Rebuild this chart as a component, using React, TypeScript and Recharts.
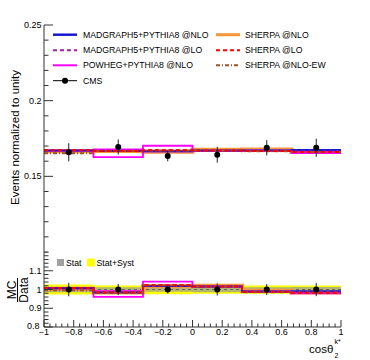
import React from 'react';
import { ComposedChart, Line, Area, Scatter, XAxis, YAxis, ErrorBar, ReferenceLine } from 'recharts';

// ---- data ----
const binEdges = [-1, -0.6667, -0.3333, 0, 0.3333, 0.6667, 1];
const binCenters = [-0.8333, -0.5, -0.1667, 0.1667, 0.5, 0.8333];
const cmsValues = [0.1659, 0.1694, 0.1634, 0.1643, 0.1689, 0.1689];
const cmsErrors = [0.006, 0.005, 0.0035, 0.0053, 0.005, 0.006];
const madgraphNlo = [0.167, 0.1668, 0.1665, 0.167, 0.167, 0.1674];
const madgraphLo = [0.1673, 0.167, 0.1672, 0.167, 0.1668, 0.1664];
const powhegNlo = [0.167, 0.1627, 0.1702, 0.1668, 0.167, 0.1654];
const powhegBoxEdge = [0.167, 0.1678, 0.1665, 0.1668, 0.167, 0.1662];
const sherpaNlo = [0.1666, 0.1668, 0.1663, 0.1675, 0.1677, 0.1662];
const sherpaLo = [0.1672, 0.1668, 0.1672, 0.167, 0.1668, 0.166];
const sherpaNloEw = [0.1652, 0.1668, 0.167, 0.167, 0.1665, 0.166];
const statBand = [0.015, 0.012, 0.012, 0.014, 0.012, 0.013];
const statSystBand = [0.027, 0.022, 0.025, 0.022, 0.022, 0.022];

// ---- tick labels ----
const xMajorTicks = [-1, -0.8, -0.6, -0.4, -0.2, 0, 0.2, 0.4, 0.6, 0.8, 1];
const yMajorTicksTop = [0.15, 0.2, 0.25];
const yMajorTicksRatio = [0.8, 0.9, 1, 1.1];

const xAllTicks = Array.from({ length: 51 }, (_, i) => -1 + i * 0.04);
const yAllTicksTop = Array.from({ length: 16 }, (_, i) => 0.1 + i * 0.01);
const yAllTicksRatio = Array.from({ length: 21 }, (_, i) => 0.8 + i * 0.02);

const FONT = '"Liberation Sans", Arial, Helvetica, sans-serif';
const AXIS = '#333';

const fmt = (v: number) => {
  const r = Math.round(v * 100) / 100;
  const s = String(r === 0 ? 0 : r);
  return s.replace('-', '\u2212');
};
const isIn = (arr: number[], v: number) => arr.some((m) => Math.abs(m - v) < 1e-6);

const stepData = (vals: number[]) =>
  binEdges.map((x, i) => ({ x, y: vals[Math.min(i, vals.length - 1)] }));
const ratioOf = (vals: number[]) => vals.map((v, i) => v / cmsValues[i]);
const bandData = (w: number[]) =>
  binEdges.map((x, i) => {
    const k = Math.min(i, w.length - 1);
    return { x, band: [1 - w[k], 1 + w[k]] };
  });

const cmsTop = binCenters.map((x, i) => ({ x, y: cmsValues[i], err: cmsErrors[i] }));
const cmsRatio = binCenters.map((x, i) => ({ x, y: cmsValues[i] / cmsValues[i], err: cmsErrors[i] / cmsValues[i] }));

const YTick = (props: any) => {
  const { x, y, payload, majors, labels, dy } = props;
  const v = payload.value;
  const major = isIn(majors, v);
  const lowest = Math.abs(v - 0.8) < 1e-6;
  return (
    <g>
      <line x1={x} x2={x + (major ? 9 : 4.5)} y1={y} y2={y} stroke={AXIS} strokeWidth={1} />
      {major && labels !== false && (
        <text x={x - (lowest ? 4.5 : 2.5)} y={y - (lowest ? 1.5 : 0) + (dy || 0)} textAnchor="end" dominantBaseline="central" fontSize={9} fontFamily={FONT} fill="#000">
          {fmt(v)}
        </text>
      )}
    </g>
  );
};

const XTick = (props: any) => {
  const { x, y, payload, labels, len } = props;
  const v = payload.value;
  const major = isIn(xMajorTicks, v);
  return (
    <g>
      <line x1={x} x2={x} y1={y} y2={y - (major ? len : len / 2)} stroke={AXIS} strokeWidth={1} />
      {major && labels && (
        <text x={x} y={y + 5} textAnchor="middle" dominantBaseline="central" fontSize={9} fontFamily={FONT} fill="#000">
          {fmt(v)}
        </text>
      )}
    </g>
  );
};

const CmsDot = (p: any) => <circle cx={p.cx} cy={p.cy} r={3} fill="#000" />;

const series = (ratio: boolean) => {
  const f = (v: number[]) => stepData(ratio ? ratioOf(v) : v);
  const common = { type: 'stepAfter' as const, dataKey: 'y', dot: false, activeDot: false, isAnimationActive: false };
  return [
    <Line key="sn" {...common} data={f(sherpaNlo)} stroke="#f7973a" strokeWidth={4} />,
    <Line key="pw2" {...common} data={f(powhegBoxEdge)} stroke="#ff00ff" strokeWidth={1.8} />,
    <Line key="pw" {...common} data={f(powhegNlo)} stroke="#ff00ff" strokeWidth={1.8} />,
    <Line key="mn" {...common} data={f(madgraphNlo)} stroke="#1a1acd" strokeWidth={2} />,
    <Line key="ml" {...common} data={f(madgraphLo)} stroke="#a020b0" strokeWidth={2} strokeDasharray="4 3" />,
    <Line key="ew" {...common} data={f(sherpaNloEw)} stroke="#a0522d" strokeWidth={2} strokeDasharray="4 2 1 2" />,
    <Line key="sl" {...common} data={f(sherpaLo)} stroke="#ff0000" strokeWidth={2} strokeDasharray="4 3" />,
  ];
};

const legendLeft = [
  { label: 'MADGRAPH5+PYTHIA8 @NLO', color: '#1a1acd', dash: undefined, w: 2.5 },
  { label: 'MADGRAPH5+PYTHIA8 @LO', color: '#a020b0', dash: '4 3', w: 2 },
  { label: 'POWHEG+PYTHIA8 @NLO', color: '#ff00ff', dash: undefined, w: 2 },
];
const legendRight = [
  { label: 'SHERPA @NLO', color: '#f7973a', dash: undefined, w: 3 },
  { label: 'SHERPA @LO', color: '#ff0000', dash: '4 3', w: 2 },
  { label: 'SHERPA @NLO-EW', color: '#a0522d', dash: '4 2 1 2', w: 2 },
];
const legendRows = [34.7, 50.3, 65.3, 80.7];

export default function App() {
  return (
    <div style={{ position: 'absolute', left: 0, top: 0, width: 370, height: 360, background: '#fff', fontFamily: FONT }}>
      <div style={{ position: 'absolute', left: 0, top: 0 }}>
        <ComposedChart width={370} height={253} margin={{ top: 25, right: 29, bottom: 1, left: 0 }}>
          <XAxis
            dataKey="x"
            type="number"
            domain={[-1, 1]}
            allowDataOverflow
            ticks={xAllTicks}
            interval={0}
            height={0}
            tickSize={0}
            tickMargin={0}
            tickLine={false}
            axisLine={{ stroke: AXIS }}
            tick={(p: any) => <XTick {...p} labels={false} len={9} />}
          />
          <XAxis xAxisId="top" orientation="top" type="number" domain={[-1, 1]} height={0} tick={false} tickLine={false} axisLine={{ stroke: AXIS }} />
          <YAxis
            type="number"
            domain={[0.1, 0.25]}
            allowDataOverflow
            ticks={yAllTicksTop}
            interval={0}
            width={44}
            tickSize={0}
            tickMargin={0}
            tickLine={false}
            axisLine={{ stroke: AXIS }}
            tick={(p: any) => <YTick {...p} majors={yMajorTicksTop} />}
          />
          <YAxis yAxisId="right" orientation="right" type="number" domain={[0, 1]} width={0} tick={false} tickLine={false} axisLine={{ stroke: AXIS }} />
          {series(false)}
          <Scatter data={cmsTop} dataKey="y" shape={CmsDot} isAnimationActive={false}>
            <ErrorBar dataKey="err" direction="y" width={0} stroke="#222" strokeWidth={1} isAnimationActive={false} />
          </Scatter>
        </ComposedChart>
      </div>
      <div style={{ position: 'absolute', left: 0, top: 252 }}>
        <ComposedChart width={370} height={108} margin={{ top: 0, right: 29, bottom: 0, left: 0 }}>
          <XAxis
            dataKey="x"
            type="number"
            domain={[-1, 1]}
            allowDataOverflow
            ticks={xAllTicks}
            interval={0}
            height={33}
            tickSize={0}
            tickMargin={0}
            tickLine={false}
            axisLine={{ stroke: AXIS }}
            tick={(p: any) => <XTick {...p} labels={true} len={7} />}
          />
          <XAxis xAxisId="top" orientation="top" type="number" domain={[-1, 1]} height={0} tick={false} tickLine={false} axisLine={{ stroke: AXIS }} />
          <YAxis
            type="number"
            domain={[0.8, 1.2]}
            allowDataOverflow
            ticks={yAllTicksRatio}
            interval={0}
            width={44}
            tickSize={0}
            tickMargin={0}
            tickLine={false}
            axisLine={{ stroke: AXIS }}
            tick={(p: any) => <YTick {...p} majors={yMajorTicksRatio} />}
          />
          <YAxis yAxisId="right" orientation="right" type="number" domain={[0, 1]} width={0} tick={false} tickLine={false} axisLine={{ stroke: AXIS }} />
          <Area data={bandData(statSystBand)} dataKey="band" type="stepAfter" stroke="none" fill="#ffff00" fillOpacity={1} isAnimationActive={false} activeDot={false} />
          <Area data={bandData(statBand)} dataKey="band" type="stepAfter" stroke="none" fill="#9a9a9a" fillOpacity={0.75} isAnimationActive={false} activeDot={false} />
          <ReferenceLine y={1} stroke="#666" strokeDasharray="3 3" strokeWidth={1.2} />
          {series(true)}
          <Scatter data={cmsRatio} dataKey="y" shape={CmsDot} isAnimationActive={false}>
            <ErrorBar dataKey="err" direction="y" width={0} stroke="#222" strokeWidth={1} isAnimationActive={false} />
          </Scatter>
        </ComposedChart>
      </div>
      <svg width={370} height={360} style={{ position: 'absolute', left: 0, top: 0, pointerEvents: 'none' }} fontFamily={FONT}>
        {legendLeft.map((l, i) => (
          <g key={l.label}>
            <line x1={53} x2={77} y1={legendRows[i]} y2={legendRows[i]} stroke={l.color} strokeWidth={l.w} strokeDasharray={l.dash} />
            <text x={83} y={legendRows[i]} dominantBaseline="central" fontSize={8.7} fill="#000">{l.label}</text>
          </g>
        ))}
        <g>
          <line x1={53} x2={77} y1={legendRows[3]} y2={legendRows[3]} stroke="#000" strokeWidth={1} />
          <circle cx={65} cy={legendRows[3]} r={3} fill="#000" />
          <text x={83} y={legendRows[3]} dominantBaseline="central" fontSize={8.7} fill="#000">CMS</text>
        </g>
        {legendRight.map((l, i) => (
          <g key={l.label}>
            <line x1={216} x2={240} y1={legendRows[i]} y2={legendRows[i]} stroke={l.color} strokeWidth={l.w} strokeDasharray={l.dash} />
            <text x={245} y={legendRows[i]} dominantBaseline="central" fontSize={8.7} fill="#000">{l.label}</text>
          </g>
        ))}
        <text transform="translate(18.5,137.5) rotate(-90)" textAnchor="middle" fontSize={11.5} fill="#000">
          Events normalized to unity
        </text>
        <g transform="translate(17.5,290) rotate(-90)">
          <text x={0} y={-2} textAnchor="middle" fontSize={12} fill="#000">MC</text>
          <line x1={-12} x2={12} y1={0} y2={0} stroke="#000" strokeWidth={1} />
          <text x={0} y={10} textAnchor="middle" fontSize={12} fill="#000">Data</text>
        </g>
        <rect x={57} y={259} width={7} height={7} fill="#a0a0a0" />
        <text x={66} y={262.5} dominantBaseline="central" fontSize={8.7} fill="#000">Stat</text>
        <rect x={87} y={258.5} width={8} height={8} fill="#ffff00" />
        <text x={96.5} y={262.5} dominantBaseline="central" fontSize={8.7} fill="#000">Stat+Syst</text>
        <text x={309} y={353} fontSize={11.5} fill="#000">{'cos\u03b8'}</text>
        <text x={334.5} y={344} fontSize={7} fill="#000">{'k*'}</text>
        <text x={334.5} y={358} fontSize={7} fill="#000">{'2'}</text>
      </svg>
    </div>
  );
}
